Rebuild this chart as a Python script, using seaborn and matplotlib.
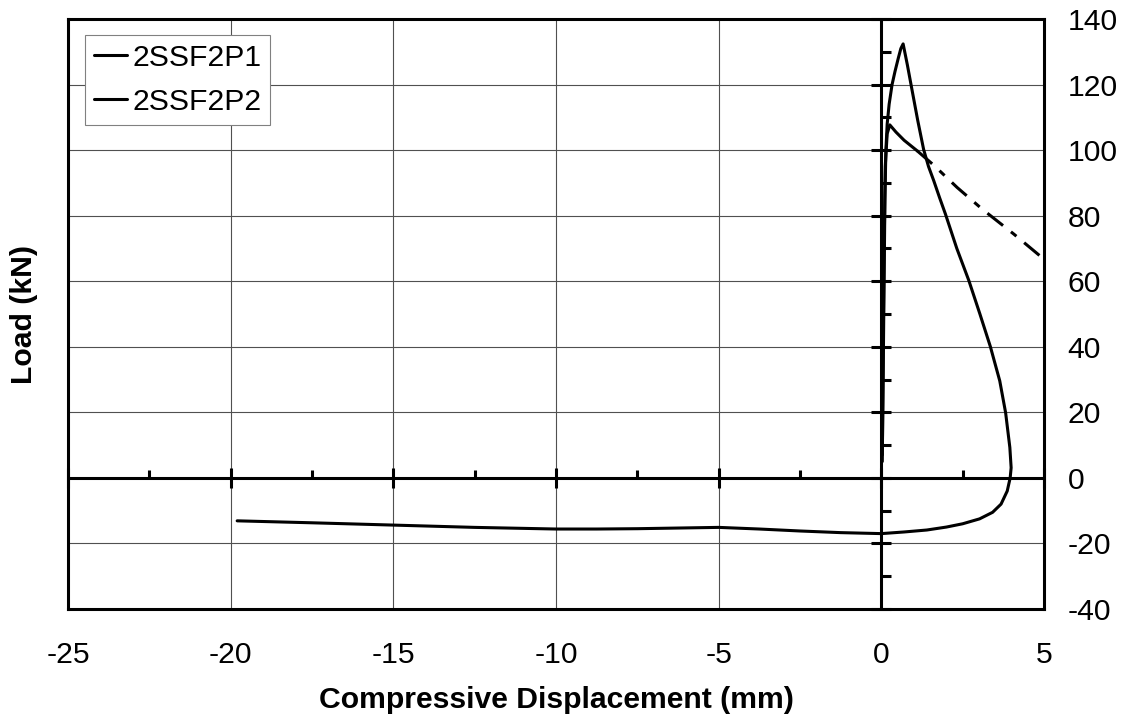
import numpy as np
import pandas as pd
import matplotlib
matplotlib.use("Agg")
import matplotlib.pyplot as plt
import seaborn as sns

# ---- data ----
series_names = ["2SSF2P1", "2SSF2P2"]

x1 = [0.03, 0.05, 0.07, 0.09, 0.11, 0.14, 0.18, 0.24, 0.33, 0.42, 0.52, 0.6, 0.67,
      0.8, 0.95, 1.12, 1.3, 1.45, 1.61, 1.79, 1.97, 2.32, 2.69, 3.03,
      3.35, 3.64, 3.82, 3.95, 3.99, 3.96, 3.87, 3.68, 3.42, 3.02, 2.5, 2.0,
      1.4, 0.7, 0.0, -1.25, -2.5, -3.75, -5.0, -6.25, -7.5, -8.75, -10.0,
      -12.5, -15.0, -17.5, -19.8]
y1 = [7, 25, 45, 65, 85, 100, 108, 114, 120, 124, 128, 131, 132.4,
      126, 118, 109, 100.2, 95, 90.7, 85.5, 80.5, 70, 60.2, 50,
      40.1, 29.6, 19.9, 9.3, 3.1, 0, -4, -8, -10.5, -12.5, -14, -15,
      -15.9, -16.5, -17.0, -16.7, -16.2, -15.6, -15.1, -15.3, -15.5, -15.6, -15.6,
      -15.1, -14.4, -13.7, -13.1]

x2_solid = [0.03, 0.05, 0.08, 0.12, 0.18, 0.26, 0.45, 0.7, 1.1]
y2_solid = [5, 30, 65, 95, 105, 107.7, 105.5, 103, 99.8]
x2_dash = [1.1, 1.6, 2.33, 3.1, 4.07, 5.05]
y2_dash = [99.8, 95.5, 88.6, 82, 74.4, 66.3]

x_major = np.arange(-25, 5.1, 5)
x_minor = np.arange(-22.5, 5.1, 5)
y_major = np.arange(-40, 140.1, 20)
y_minor = np.arange(-30, 140, 20)

# ---- style ----
sns.set_theme(style="white")
plt.rcParams["font.family"] = ["Liberation Sans", "DejaVu Sans"]
plt.rcParams.update({"text.color": "black", "axes.labelcolor": "black",
                     "xtick.color": "black", "ytick.color": "black"})

fig = plt.figure(figsize=(11.29, 7.22), dpi=100)
ax = fig.add_axes([68 / 1129, 1 - 609 / 722, (1044 - 68) / 1129, (609 - 19) / 722])

LW = 2.2
FS = 21.7
sns.lineplot(x=x1, y=y1, sort=False, estimator=None, color="black", lw=LW,
             label=series_names[0], ax=ax, zorder=4)
sns.lineplot(x=x2_solid, y=y2_solid, sort=False, estimator=None, color="black", lw=LW,
             label=series_names[1], ax=ax, zorder=4)
sns.lineplot(x=x2_dash, y=y2_dash, sort=False, estimator=None, color="black", lw=LW,
             ax=ax, zorder=4, linestyle=(0, (6.5, 3.3, 2.3, 3.3)), legend=False)

ax.set_xlim(-25, 5)
ax.set_ylim(-40, 140)
ax.set_xticks(x_major)
ax.set_yticks(y_major)
ax.set_xticklabels([f"{v:g}" for v in x_major])
ax.set_yticklabels([f"{v:g}" for v in y_major])
ax.yaxis.tick_right()
ax.tick_params(axis="x", length=0, pad=23, labelsize=FS, colors="black")
ax.tick_params(axis="y", length=0, pad=17, labelsize=FS, colors="black")

ax.grid(True, color="#505050", lw=0.8, zorder=0)
ax.set_axisbelow(True)
for s in ax.spines.values():
    s.set_visible(True)
    s.set_color("black")
    s.set_linewidth(2.2)

# axis lines through the origin with their own tick marks
ax.axhline(0, color="black", lw=2.2, zorder=3)
ax.axvline(0, color="black", lw=2.2, zorder=3)
ax.plot(np.zeros_like(y_major), y_major, ls="none", marker="_", ms=14.4, mew=2.2,
        color="black", zorder=3, clip_on=False)
ax.plot(np.zeros_like(y_minor), y_minor, ls="none", marker=1, ms=7.5, mew=2.2,
        color="black", zorder=3)
ax.plot(x_major, np.zeros_like(x_major), ls="none", marker="|", ms=14.4, mew=2.2,
        color="black", zorder=3, clip_on=False)
ax.plot(x_minor, np.zeros_like(x_minor), ls="none", marker=2, ms=6, mew=2.2,
        color="black", zorder=3)

ax.set_xlabel("Compressive Displacement (mm)", fontsize=FS, fontweight="bold")
ax.set_ylabel("Load (kN)", fontsize=FS, fontweight="bold")
ax.yaxis.set_label_position("left")
ax.xaxis.set_label_coords(0.5, -0.1305)
ax.yaxis.set_label_coords(-0.031, 0.5)

leg = ax.legend(loc="upper left", bbox_to_anchor=(0.0174, 0.973), borderaxespad=0,
                fontsize=FS, handlelength=1.1, handletextpad=0.17, borderpad=0.3,
                labelspacing=0.52, fancybox=False, frameon=True)
leg.get_frame().set_edgecolor("#808080")
leg.get_frame().set_linewidth(0.8)
leg.get_frame().set_facecolor("white")
leg.get_frame().set_alpha(1)
for h in leg.get_lines():
    h.set_linestyle("-")
    h.set_linewidth(LW)

fig.savefig("out.png", dpi=100, facecolor="white")
